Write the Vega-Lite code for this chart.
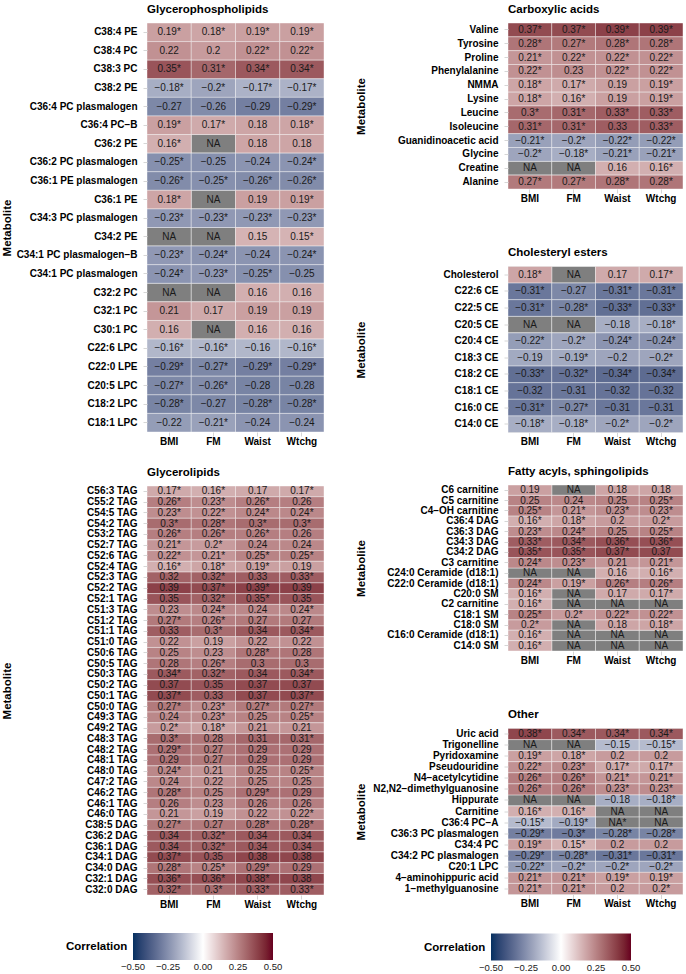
{
"$schema": "https://vega.github.io/schema/vega-lite/v6.json",
"padding": {"left": 1, "top": 3, "right": 0, "bottom": 0},
"config": {
 "font": "Liberation Sans",
 "view": {"stroke": null},
 "title": {"anchor": "start", "frame": "group", "fontSize": 11.5, "fontWeight": "bold", "color": "#000000", "offset": 7.5, "baseline": "alphabetic"},
 "axisY": {"domain": false, "tickSize": 4, "tickColor": "#d6d6d6", "labelPadding": 6, "labelFontSize": 10, "labelFontWeight": "bold", "labelColor": "#000000", "titleFontSize": 11.5, "titleFontWeight": "bold", "titleColor": "#000000", "titleBaseline": "middle", "labelLimit": 300},
 "axisX": {"domain": false, "tickSize": 4, "tickColor": "#d6d6d6", "labelPadding": 0, "labelFontSize": 10, "labelFontWeight": "bold", "labelColor": "#000000", "labelAngle": 0}
},
"datasets": {
 "gp": [
  {"m":"C38:4 PE","x":"BMI","v":0.19,"t":"0.19*"},{"m":"C38:4 PE","x":"FM","v":0.18,"t":"0.18*"},{"m":"C38:4 PE","x":"Waist","v":0.19,"t":"0.19*"},{"m":"C38:4 PE","x":"Wtchg","v":0.19,"t":"0.19*"},
  {"m":"C38:4 PC","x":"BMI","v":0.22,"t":"0.22"},{"m":"C38:4 PC","x":"FM","v":0.2,"t":"0.2"},{"m":"C38:4 PC","x":"Waist","v":0.22,"t":"0.22*"},{"m":"C38:4 PC","x":"Wtchg","v":0.22,"t":"0.22*"},
  {"m":"C38:3 PC","x":"BMI","v":0.35,"t":"0.35*"},{"m":"C38:3 PC","x":"FM","v":0.31,"t":"0.31*"},{"m":"C38:3 PC","x":"Waist","v":0.34,"t":"0.34*"},{"m":"C38:3 PC","x":"Wtchg","v":0.34,"t":"0.34*"},
  {"m":"C38:2 PE","x":"BMI","v":-0.18,"t":"−0.18*"},{"m":"C38:2 PE","x":"FM","v":-0.2,"t":"−0.2*"},{"m":"C38:2 PE","x":"Waist","v":-0.17,"t":"−0.17*"},{"m":"C38:2 PE","x":"Wtchg","v":-0.17,"t":"−0.17*"},
  {"m":"C36:4 PC plasmalogen","x":"BMI","v":-0.27,"t":"−0.27"},{"m":"C36:4 PC plasmalogen","x":"FM","v":-0.26,"t":"−0.26"},{"m":"C36:4 PC plasmalogen","x":"Waist","v":-0.29,"t":"−0.29"},{"m":"C36:4 PC plasmalogen","x":"Wtchg","v":-0.29,"t":"−0.29*"},
  {"m":"C36:4 PC−B","x":"BMI","v":0.19,"t":"0.19*"},{"m":"C36:4 PC−B","x":"FM","v":0.17,"t":"0.17*"},{"m":"C36:4 PC−B","x":"Waist","v":0.18,"t":"0.18"},{"m":"C36:4 PC−B","x":"Wtchg","v":0.18,"t":"0.18*"},
  {"m":"C36:2 PE","x":"BMI","v":0.16,"t":"0.16*"},{"m":"C36:2 PE","x":"FM","v":null,"t":"NA"},{"m":"C36:2 PE","x":"Waist","v":0.18,"t":"0.18"},{"m":"C36:2 PE","x":"Wtchg","v":0.18,"t":"0.18"},
  {"m":"C36:2 PC plasmalogen","x":"BMI","v":-0.25,"t":"−0.25*"},{"m":"C36:2 PC plasmalogen","x":"FM","v":-0.25,"t":"−0.25"},{"m":"C36:2 PC plasmalogen","x":"Waist","v":-0.24,"t":"−0.24"},{"m":"C36:2 PC plasmalogen","x":"Wtchg","v":-0.24,"t":"−0.24*"},
  {"m":"C36:1 PE plasmalogen","x":"BMI","v":-0.26,"t":"−0.26*"},{"m":"C36:1 PE plasmalogen","x":"FM","v":-0.25,"t":"−0.25*"},{"m":"C36:1 PE plasmalogen","x":"Waist","v":-0.26,"t":"−0.26*"},{"m":"C36:1 PE plasmalogen","x":"Wtchg","v":-0.26,"t":"−0.26*"},
  {"m":"C36:1 PE","x":"BMI","v":0.18,"t":"0.18*"},{"m":"C36:1 PE","x":"FM","v":null,"t":"NA"},{"m":"C36:1 PE","x":"Waist","v":0.19,"t":"0.19"},{"m":"C36:1 PE","x":"Wtchg","v":0.19,"t":"0.19*"},
  {"m":"C34:3 PC plasmalogen","x":"BMI","v":-0.23,"t":"−0.23*"},{"m":"C34:3 PC plasmalogen","x":"FM","v":-0.23,"t":"−0.23*"},{"m":"C34:3 PC plasmalogen","x":"Waist","v":-0.23,"t":"−0.23*"},{"m":"C34:3 PC plasmalogen","x":"Wtchg","v":-0.23,"t":"−0.23*"},
  {"m":"C34:2 PE","x":"BMI","v":null,"t":"NA"},{"m":"C34:2 PE","x":"FM","v":null,"t":"NA"},{"m":"C34:2 PE","x":"Waist","v":0.15,"t":"0.15"},{"m":"C34:2 PE","x":"Wtchg","v":0.15,"t":"0.15*"},
  {"m":"C34:1 PC plasmalogen−B","x":"BMI","v":-0.23,"t":"−0.23*"},{"m":"C34:1 PC plasmalogen−B","x":"FM","v":-0.24,"t":"−0.24*"},{"m":"C34:1 PC plasmalogen−B","x":"Waist","v":-0.24,"t":"−0.24"},{"m":"C34:1 PC plasmalogen−B","x":"Wtchg","v":-0.24,"t":"−0.24*"},
  {"m":"C34:1 PC plasmalogen","x":"BMI","v":-0.24,"t":"−0.24*"},{"m":"C34:1 PC plasmalogen","x":"FM","v":-0.23,"t":"−0.23*"},{"m":"C34:1 PC plasmalogen","x":"Waist","v":-0.25,"t":"−0.25*"},{"m":"C34:1 PC plasmalogen","x":"Wtchg","v":-0.25,"t":"−0.25"},
  {"m":"C32:2 PC","x":"BMI","v":null,"t":"NA"},{"m":"C32:2 PC","x":"FM","v":null,"t":"NA"},{"m":"C32:2 PC","x":"Waist","v":0.16,"t":"0.16"},{"m":"C32:2 PC","x":"Wtchg","v":0.16,"t":"0.16"},
  {"m":"C32:1 PC","x":"BMI","v":0.21,"t":"0.21"},{"m":"C32:1 PC","x":"FM","v":0.17,"t":"0.17"},{"m":"C32:1 PC","x":"Waist","v":0.19,"t":"0.19"},{"m":"C32:1 PC","x":"Wtchg","v":0.19,"t":"0.19"},
  {"m":"C30:1 PC","x":"BMI","v":0.16,"t":"0.16"},{"m":"C30:1 PC","x":"FM","v":null,"t":"NA"},{"m":"C30:1 PC","x":"Waist","v":0.16,"t":"0.16"},{"m":"C30:1 PC","x":"Wtchg","v":0.16,"t":"0.16"},
  {"m":"C22:6 LPC","x":"BMI","v":-0.16,"t":"−0.16*"},{"m":"C22:6 LPC","x":"FM","v":-0.16,"t":"−0.16*"},{"m":"C22:6 LPC","x":"Waist","v":-0.16,"t":"−0.16"},{"m":"C22:6 LPC","x":"Wtchg","v":-0.16,"t":"−0.16*"},
  {"m":"C22:0 LPE","x":"BMI","v":-0.29,"t":"−0.29*"},{"m":"C22:0 LPE","x":"FM","v":-0.27,"t":"−0.27*"},{"m":"C22:0 LPE","x":"Waist","v":-0.29,"t":"−0.29*"},{"m":"C22:0 LPE","x":"Wtchg","v":-0.29,"t":"−0.29*"},
  {"m":"C20:5 LPC","x":"BMI","v":-0.27,"t":"−0.27*"},{"m":"C20:5 LPC","x":"FM","v":-0.26,"t":"−0.26*"},{"m":"C20:5 LPC","x":"Waist","v":-0.28,"t":"−0.28"},{"m":"C20:5 LPC","x":"Wtchg","v":-0.28,"t":"−0.28"},
  {"m":"C18:2 LPC","x":"BMI","v":-0.28,"t":"−0.28*"},{"m":"C18:2 LPC","x":"FM","v":-0.27,"t":"−0.27"},{"m":"C18:2 LPC","x":"Waist","v":-0.28,"t":"−0.28*"},{"m":"C18:2 LPC","x":"Wtchg","v":-0.28,"t":"−0.28*"},
  {"m":"C18:1 LPC","x":"BMI","v":-0.22,"t":"−0.22"},{"m":"C18:1 LPC","x":"FM","v":-0.21,"t":"−0.21*"},{"m":"C18:1 LPC","x":"Waist","v":-0.24,"t":"−0.24"},{"m":"C18:1 LPC","x":"Wtchg","v":-0.24,"t":"−0.24"}
 ],
 "gl": [
  {"m":"C56:3 TAG","x":"BMI","v":0.17,"t":"0.17*"},{"m":"C56:3 TAG","x":"FM","v":0.16,"t":"0.16*"},{"m":"C56:3 TAG","x":"Waist","v":0.17,"t":"0.17"},{"m":"C56:3 TAG","x":"Wtchg","v":0.17,"t":"0.17*"},
  {"m":"C55:2 TAG","x":"BMI","v":0.26,"t":"0.26*"},{"m":"C55:2 TAG","x":"FM","v":0.23,"t":"0.23*"},{"m":"C55:2 TAG","x":"Waist","v":0.26,"t":"0.26*"},{"m":"C55:2 TAG","x":"Wtchg","v":0.26,"t":"0.26"},
  {"m":"C54:5 TAG","x":"BMI","v":0.23,"t":"0.23*"},{"m":"C54:5 TAG","x":"FM","v":0.22,"t":"0.22*"},{"m":"C54:5 TAG","x":"Waist","v":0.24,"t":"0.24*"},{"m":"C54:5 TAG","x":"Wtchg","v":0.24,"t":"0.24*"},
  {"m":"C54:2 TAG","x":"BMI","v":0.3,"t":"0.3*"},{"m":"C54:2 TAG","x":"FM","v":0.28,"t":"0.28*"},{"m":"C54:2 TAG","x":"Waist","v":0.3,"t":"0.3*"},{"m":"C54:2 TAG","x":"Wtchg","v":0.3,"t":"0.3*"},
  {"m":"C53:2 TAG","x":"BMI","v":0.26,"t":"0.26*"},{"m":"C53:2 TAG","x":"FM","v":0.26,"t":"0.26*"},{"m":"C53:2 TAG","x":"Waist","v":0.26,"t":"0.26*"},{"m":"C53:2 TAG","x":"Wtchg","v":0.26,"t":"0.26"},
  {"m":"C52:7 TAG","x":"BMI","v":0.21,"t":"0.21*"},{"m":"C52:7 TAG","x":"FM","v":0.2,"t":"0.2*"},{"m":"C52:7 TAG","x":"Waist","v":0.24,"t":"0.24"},{"m":"C52:7 TAG","x":"Wtchg","v":0.24,"t":"0.24"},
  {"m":"C52:6 TAG","x":"BMI","v":0.22,"t":"0.22*"},{"m":"C52:6 TAG","x":"FM","v":0.21,"t":"0.21*"},{"m":"C52:6 TAG","x":"Waist","v":0.25,"t":"0.25*"},{"m":"C52:6 TAG","x":"Wtchg","v":0.25,"t":"0.25*"},
  {"m":"C52:4 TAG","x":"BMI","v":0.16,"t":"0.16*"},{"m":"C52:4 TAG","x":"FM","v":0.18,"t":"0.18*"},{"m":"C52:4 TAG","x":"Waist","v":0.19,"t":"0.19*"},{"m":"C52:4 TAG","x":"Wtchg","v":0.19,"t":"0.19"},
  {"m":"C52:3 TAG","x":"BMI","v":0.32,"t":"0.32"},{"m":"C52:3 TAG","x":"FM","v":0.32,"t":"0.32*"},{"m":"C52:3 TAG","x":"Waist","v":0.33,"t":"0.33"},{"m":"C52:3 TAG","x":"Wtchg","v":0.33,"t":"0.33*"},
  {"m":"C52:2 TAG","x":"BMI","v":0.39,"t":"0.39"},{"m":"C52:2 TAG","x":"FM","v":0.37,"t":"0.37*"},{"m":"C52:2 TAG","x":"Waist","v":0.39,"t":"0.39*"},{"m":"C52:2 TAG","x":"Wtchg","v":0.39,"t":"0.39"},
  {"m":"C52:1 TAG","x":"BMI","v":0.35,"t":"0.35"},{"m":"C52:1 TAG","x":"FM","v":0.32,"t":"0.32*"},{"m":"C52:1 TAG","x":"Waist","v":0.35,"t":"0.35*"},{"m":"C52:1 TAG","x":"Wtchg","v":0.35,"t":"0.35"},
  {"m":"C51:3 TAG","x":"BMI","v":0.23,"t":"0.23"},{"m":"C51:3 TAG","x":"FM","v":0.24,"t":"0.24*"},{"m":"C51:3 TAG","x":"Waist","v":0.24,"t":"0.24"},{"m":"C51:3 TAG","x":"Wtchg","v":0.24,"t":"0.24*"},
  {"m":"C51:2 TAG","x":"BMI","v":0.27,"t":"0.27*"},{"m":"C51:2 TAG","x":"FM","v":0.26,"t":"0.26*"},{"m":"C51:2 TAG","x":"Waist","v":0.27,"t":"0.27"},{"m":"C51:2 TAG","x":"Wtchg","v":0.27,"t":"0.27"},
  {"m":"C51:1 TAG","x":"BMI","v":0.33,"t":"0.33"},{"m":"C51:1 TAG","x":"FM","v":0.3,"t":"0.3*"},{"m":"C51:1 TAG","x":"Waist","v":0.34,"t":"0.34"},{"m":"C51:1 TAG","x":"Wtchg","v":0.34,"t":"0.34*"},
  {"m":"C51:0 TAG","x":"BMI","v":0.22,"t":"0.22"},{"m":"C51:0 TAG","x":"FM","v":0.19,"t":"0.19"},{"m":"C51:0 TAG","x":"Waist","v":0.22,"t":"0.22"},{"m":"C51:0 TAG","x":"Wtchg","v":0.22,"t":"0.22"},
  {"m":"C50:6 TAG","x":"BMI","v":0.25,"t":"0.25"},{"m":"C50:6 TAG","x":"FM","v":0.23,"t":"0.23"},{"m":"C50:6 TAG","x":"Waist","v":0.28,"t":"0.28*"},{"m":"C50:6 TAG","x":"Wtchg","v":0.28,"t":"0.28"},
  {"m":"C50:5 TAG","x":"BMI","v":0.28,"t":"0.28"},{"m":"C50:5 TAG","x":"FM","v":0.26,"t":"0.26*"},{"m":"C50:5 TAG","x":"Waist","v":0.3,"t":"0.3"},{"m":"C50:5 TAG","x":"Wtchg","v":0.3,"t":"0.3"},
  {"m":"C50:3 TAG","x":"BMI","v":0.34,"t":"0.34*"},{"m":"C50:3 TAG","x":"FM","v":0.32,"t":"0.32*"},{"m":"C50:3 TAG","x":"Waist","v":0.34,"t":"0.34"},{"m":"C50:3 TAG","x":"Wtchg","v":0.34,"t":"0.34*"},
  {"m":"C50:2 TAG","x":"BMI","v":0.37,"t":"0.37"},{"m":"C50:2 TAG","x":"FM","v":0.35,"t":"0.35"},{"m":"C50:2 TAG","x":"Waist","v":0.37,"t":"0.37"},{"m":"C50:2 TAG","x":"Wtchg","v":0.37,"t":"0.37"},
  {"m":"C50:1 TAG","x":"BMI","v":0.37,"t":"0.37*"},{"m":"C50:1 TAG","x":"FM","v":0.33,"t":"0.33"},{"m":"C50:1 TAG","x":"Waist","v":0.37,"t":"0.37"},{"m":"C50:1 TAG","x":"Wtchg","v":0.37,"t":"0.37*"},
  {"m":"C50:0 TAG","x":"BMI","v":0.27,"t":"0.27*"},{"m":"C50:0 TAG","x":"FM","v":0.23,"t":"0.23*"},{"m":"C50:0 TAG","x":"Waist","v":0.27,"t":"0.27*"},{"m":"C50:0 TAG","x":"Wtchg","v":0.27,"t":"0.27*"},
  {"m":"C49:3 TAG","x":"BMI","v":0.24,"t":"0.24"},{"m":"C49:3 TAG","x":"FM","v":0.23,"t":"0.23*"},{"m":"C49:3 TAG","x":"Waist","v":0.25,"t":"0.25"},{"m":"C49:3 TAG","x":"Wtchg","v":0.25,"t":"0.25*"},
  {"m":"C49:2 TAG","x":"BMI","v":0.2,"t":"0.2*"},{"m":"C49:2 TAG","x":"FM","v":0.18,"t":"0.18*"},{"m":"C49:2 TAG","x":"Waist","v":0.21,"t":"0.21"},{"m":"C49:2 TAG","x":"Wtchg","v":0.21,"t":"0.21"},
  {"m":"C48:3 TAG","x":"BMI","v":0.3,"t":"0.3*"},{"m":"C48:3 TAG","x":"FM","v":0.28,"t":"0.28"},{"m":"C48:3 TAG","x":"Waist","v":0.31,"t":"0.31"},{"m":"C48:3 TAG","x":"Wtchg","v":0.31,"t":"0.31*"},
  {"m":"C48:2 TAG","x":"BMI","v":0.29,"t":"0.29*"},{"m":"C48:2 TAG","x":"FM","v":0.27,"t":"0.27"},{"m":"C48:2 TAG","x":"Waist","v":0.29,"t":"0.29"},{"m":"C48:2 TAG","x":"Wtchg","v":0.29,"t":"0.29"},
  {"m":"C48:1 TAG","x":"BMI","v":0.29,"t":"0.29"},{"m":"C48:1 TAG","x":"FM","v":0.27,"t":"0.27"},{"m":"C48:1 TAG","x":"Waist","v":0.29,"t":"0.29"},{"m":"C48:1 TAG","x":"Wtchg","v":0.29,"t":"0.29"},
  {"m":"C48:0 TAG","x":"BMI","v":0.24,"t":"0.24*"},{"m":"C48:0 TAG","x":"FM","v":0.21,"t":"0.21"},{"m":"C48:0 TAG","x":"Waist","v":0.25,"t":"0.25"},{"m":"C48:0 TAG","x":"Wtchg","v":0.25,"t":"0.25*"},
  {"m":"C47:2 TAG","x":"BMI","v":0.24,"t":"0.24"},{"m":"C47:2 TAG","x":"FM","v":0.22,"t":"0.22"},{"m":"C47:2 TAG","x":"Waist","v":0.25,"t":"0.25"},{"m":"C47:2 TAG","x":"Wtchg","v":0.25,"t":"0.25"},
  {"m":"C46:2 TAG","x":"BMI","v":0.28,"t":"0.28*"},{"m":"C46:2 TAG","x":"FM","v":0.25,"t":"0.25"},{"m":"C46:2 TAG","x":"Waist","v":0.29,"t":"0.29*"},{"m":"C46:2 TAG","x":"Wtchg","v":0.29,"t":"0.29"},
  {"m":"C46:1 TAG","x":"BMI","v":0.26,"t":"0.26"},{"m":"C46:1 TAG","x":"FM","v":0.23,"t":"0.23"},{"m":"C46:1 TAG","x":"Waist","v":0.26,"t":"0.26"},{"m":"C46:1 TAG","x":"Wtchg","v":0.26,"t":"0.26"},
  {"m":"C46:0 TAG","x":"BMI","v":0.21,"t":"0.21"},{"m":"C46:0 TAG","x":"FM","v":0.19,"t":"0.19"},{"m":"C46:0 TAG","x":"Waist","v":0.22,"t":"0.22"},{"m":"C46:0 TAG","x":"Wtchg","v":0.22,"t":"0.22*"},
  {"m":"C38:5 DAG","x":"BMI","v":0.27,"t":"0.27*"},{"m":"C38:5 DAG","x":"FM","v":0.27,"t":"0.27"},{"m":"C38:5 DAG","x":"Waist","v":0.28,"t":"0.28*"},{"m":"C38:5 DAG","x":"Wtchg","v":0.28,"t":"0.28*"},
  {"m":"C36:2 DAG","x":"BMI","v":0.34,"t":"0.34"},{"m":"C36:2 DAG","x":"FM","v":0.32,"t":"0.32*"},{"m":"C36:2 DAG","x":"Waist","v":0.34,"t":"0.34"},{"m":"C36:2 DAG","x":"Wtchg","v":0.34,"t":"0.34"},
  {"m":"C36:1 DAG","x":"BMI","v":0.34,"t":"0.34"},{"m":"C36:1 DAG","x":"FM","v":0.32,"t":"0.32*"},{"m":"C36:1 DAG","x":"Waist","v":0.34,"t":"0.34"},{"m":"C36:1 DAG","x":"Wtchg","v":0.34,"t":"0.34"},
  {"m":"C34:1 DAG","x":"BMI","v":0.37,"t":"0.37*"},{"m":"C34:1 DAG","x":"FM","v":0.35,"t":"0.35"},{"m":"C34:1 DAG","x":"Waist","v":0.38,"t":"0.38"},{"m":"C34:1 DAG","x":"Wtchg","v":0.38,"t":"0.38"},
  {"m":"C34:0 DAG","x":"BMI","v":0.28,"t":"0.28*"},{"m":"C34:0 DAG","x":"FM","v":0.25,"t":"0.25*"},{"m":"C34:0 DAG","x":"Waist","v":0.29,"t":"0.29*"},{"m":"C34:0 DAG","x":"Wtchg","v":0.29,"t":"0.29"},
  {"m":"C32:1 DAG","x":"BMI","v":0.36,"t":"0.36*"},{"m":"C32:1 DAG","x":"FM","v":0.36,"t":"0.36*"},{"m":"C32:1 DAG","x":"Waist","v":0.38,"t":"0.38*"},{"m":"C32:1 DAG","x":"Wtchg","v":0.38,"t":"0.38"},
  {"m":"C32:0 DAG","x":"BMI","v":0.32,"t":"0.32*"},{"m":"C32:0 DAG","x":"FM","v":0.3,"t":"0.3*"},{"m":"C32:0 DAG","x":"Waist","v":0.33,"t":"0.33*"},{"m":"C32:0 DAG","x":"Wtchg","v":0.33,"t":"0.33*"}
 ],
 "ca": [
  {"m":"Valine","x":"BMI","v":0.37,"t":"0.37*"},{"m":"Valine","x":"FM","v":0.37,"t":"0.37*"},{"m":"Valine","x":"Waist","v":0.39,"t":"0.39*"},{"m":"Valine","x":"Wtchg","v":0.39,"t":"0.39*"},
  {"m":"Tyrosine","x":"BMI","v":0.28,"t":"0.28*"},{"m":"Tyrosine","x":"FM","v":0.27,"t":"0.27*"},{"m":"Tyrosine","x":"Waist","v":0.28,"t":"0.28*"},{"m":"Tyrosine","x":"Wtchg","v":0.28,"t":"0.28*"},
  {"m":"Proline","x":"BMI","v":0.21,"t":"0.21*"},{"m":"Proline","x":"FM","v":0.22,"t":"0.22*"},{"m":"Proline","x":"Waist","v":0.22,"t":"0.22*"},{"m":"Proline","x":"Wtchg","v":0.22,"t":"0.22*"},
  {"m":"Phenylalanine","x":"BMI","v":0.22,"t":"0.22*"},{"m":"Phenylalanine","x":"FM","v":0.23,"t":"0.23"},{"m":"Phenylalanine","x":"Waist","v":0.22,"t":"0.22*"},{"m":"Phenylalanine","x":"Wtchg","v":0.22,"t":"0.22*"},
  {"m":"NMMA","x":"BMI","v":0.18,"t":"0.18*"},{"m":"NMMA","x":"FM","v":0.17,"t":"0.17*"},{"m":"NMMA","x":"Waist","v":0.19,"t":"0.19"},{"m":"NMMA","x":"Wtchg","v":0.19,"t":"0.19*"},
  {"m":"Lysine","x":"BMI","v":0.18,"t":"0.18*"},{"m":"Lysine","x":"FM","v":0.16,"t":"0.16*"},{"m":"Lysine","x":"Waist","v":0.19,"t":"0.19"},{"m":"Lysine","x":"Wtchg","v":0.19,"t":"0.19*"},
  {"m":"Leucine","x":"BMI","v":0.3,"t":"0.3*"},{"m":"Leucine","x":"FM","v":0.31,"t":"0.31*"},{"m":"Leucine","x":"Waist","v":0.33,"t":"0.33*"},{"m":"Leucine","x":"Wtchg","v":0.33,"t":"0.33*"},
  {"m":"Isoleucine","x":"BMI","v":0.31,"t":"0.31*"},{"m":"Isoleucine","x":"FM","v":0.31,"t":"0.31*"},{"m":"Isoleucine","x":"Waist","v":0.33,"t":"0.33"},{"m":"Isoleucine","x":"Wtchg","v":0.33,"t":"0.33*"},
  {"m":"Guanidinoacetic acid","x":"BMI","v":-0.21,"t":"−0.21*"},{"m":"Guanidinoacetic acid","x":"FM","v":-0.2,"t":"−0.2*"},{"m":"Guanidinoacetic acid","x":"Waist","v":-0.22,"t":"−0.22*"},{"m":"Guanidinoacetic acid","x":"Wtchg","v":-0.22,"t":"−0.22*"},
  {"m":"Glycine","x":"BMI","v":-0.2,"t":"−0.2*"},{"m":"Glycine","x":"FM","v":-0.18,"t":"−0.18*"},{"m":"Glycine","x":"Waist","v":-0.21,"t":"−0.21*"},{"m":"Glycine","x":"Wtchg","v":-0.21,"t":"−0.21*"},
  {"m":"Creatine","x":"BMI","v":null,"t":"NA"},{"m":"Creatine","x":"FM","v":null,"t":"NA"},{"m":"Creatine","x":"Waist","v":0.16,"t":"0.16"},{"m":"Creatine","x":"Wtchg","v":0.16,"t":"0.16*"},
  {"m":"Alanine","x":"BMI","v":0.27,"t":"0.27*"},{"m":"Alanine","x":"FM","v":0.27,"t":"0.27*"},{"m":"Alanine","x":"Waist","v":0.28,"t":"0.28*"},{"m":"Alanine","x":"Wtchg","v":0.28,"t":"0.28*"}
 ],
 "ce": [
  {"m":"Cholesterol","x":"BMI","v":0.18,"t":"0.18*"},{"m":"Cholesterol","x":"FM","v":null,"t":"NA"},{"m":"Cholesterol","x":"Waist","v":0.17,"t":"0.17"},{"m":"Cholesterol","x":"Wtchg","v":0.17,"t":"0.17*"},
  {"m":"C22:6 CE","x":"BMI","v":-0.31,"t":"−0.31*"},{"m":"C22:6 CE","x":"FM","v":-0.27,"t":"−0.27"},{"m":"C22:6 CE","x":"Waist","v":-0.31,"t":"−0.31*"},{"m":"C22:6 CE","x":"Wtchg","v":-0.31,"t":"−0.31*"},
  {"m":"C22:5 CE","x":"BMI","v":-0.31,"t":"−0.31*"},{"m":"C22:5 CE","x":"FM","v":-0.28,"t":"−0.28*"},{"m":"C22:5 CE","x":"Waist","v":-0.33,"t":"−0.33*"},{"m":"C22:5 CE","x":"Wtchg","v":-0.33,"t":"−0.33*"},
  {"m":"C20:5 CE","x":"BMI","v":null,"t":"NA"},{"m":"C20:5 CE","x":"FM","v":null,"t":"NA"},{"m":"C20:5 CE","x":"Waist","v":-0.18,"t":"−0.18"},{"m":"C20:5 CE","x":"Wtchg","v":-0.18,"t":"−0.18*"},
  {"m":"C20:4 CE","x":"BMI","v":-0.22,"t":"−0.22*"},{"m":"C20:4 CE","x":"FM","v":-0.2,"t":"−0.2*"},{"m":"C20:4 CE","x":"Waist","v":-0.24,"t":"−0.24*"},{"m":"C20:4 CE","x":"Wtchg","v":-0.24,"t":"−0.24*"},
  {"m":"C18:3 CE","x":"BMI","v":-0.19,"t":"−0.19"},{"m":"C18:3 CE","x":"FM","v":-0.19,"t":"−0.19*"},{"m":"C18:3 CE","x":"Waist","v":-0.2,"t":"−0.2"},{"m":"C18:3 CE","x":"Wtchg","v":-0.2,"t":"−0.2*"},
  {"m":"C18:2 CE","x":"BMI","v":-0.33,"t":"−0.33*"},{"m":"C18:2 CE","x":"FM","v":-0.32,"t":"−0.32*"},{"m":"C18:2 CE","x":"Waist","v":-0.34,"t":"−0.34*"},{"m":"C18:2 CE","x":"Wtchg","v":-0.34,"t":"−0.34*"},
  {"m":"C18:1 CE","x":"BMI","v":-0.32,"t":"−0.32"},{"m":"C18:1 CE","x":"FM","v":-0.31,"t":"−0.31"},{"m":"C18:1 CE","x":"Waist","v":-0.32,"t":"−0.32"},{"m":"C18:1 CE","x":"Wtchg","v":-0.32,"t":"−0.32"},
  {"m":"C16:0 CE","x":"BMI","v":-0.31,"t":"−0.31*"},{"m":"C16:0 CE","x":"FM","v":-0.27,"t":"−0.27*"},{"m":"C16:0 CE","x":"Waist","v":-0.31,"t":"−0.31"},{"m":"C16:0 CE","x":"Wtchg","v":-0.31,"t":"−0.31"},
  {"m":"C14:0 CE","x":"BMI","v":-0.18,"t":"−0.18*"},{"m":"C14:0 CE","x":"FM","v":-0.18,"t":"−0.18*"},{"m":"C14:0 CE","x":"Waist","v":-0.2,"t":"−0.2*"},{"m":"C14:0 CE","x":"Wtchg","v":-0.2,"t":"−0.2*"}
 ],
 "fa": [
  {"m":"C6 carnitine","x":"BMI","v":0.19,"t":"0.19"},{"m":"C6 carnitine","x":"FM","v":null,"t":"NA"},{"m":"C6 carnitine","x":"Waist","v":0.18,"t":"0.18"},{"m":"C6 carnitine","x":"Wtchg","v":0.18,"t":"0.18"},
  {"m":"C5 carnitine","x":"BMI","v":0.25,"t":"0.25"},{"m":"C5 carnitine","x":"FM","v":0.24,"t":"0.24"},{"m":"C5 carnitine","x":"Waist","v":0.25,"t":"0.25"},{"m":"C5 carnitine","x":"Wtchg","v":0.25,"t":"0.25*"},
  {"m":"C4−OH carnitine","x":"BMI","v":0.25,"t":"0.25*"},{"m":"C4−OH carnitine","x":"FM","v":0.21,"t":"0.21*"},{"m":"C4−OH carnitine","x":"Waist","v":0.23,"t":"0.23*"},{"m":"C4−OH carnitine","x":"Wtchg","v":0.23,"t":"0.23*"},
  {"m":"C36:4 DAG","x":"BMI","v":0.16,"t":"0.16*"},{"m":"C36:4 DAG","x":"FM","v":0.18,"t":"0.18*"},{"m":"C36:4 DAG","x":"Waist","v":0.2,"t":"0.2"},{"m":"C36:4 DAG","x":"Wtchg","v":0.2,"t":"0.2*"},
  {"m":"C36:3 DAG","x":"BMI","v":0.23,"t":"0.23*"},{"m":"C36:3 DAG","x":"FM","v":0.24,"t":"0.24*"},{"m":"C36:3 DAG","x":"Waist","v":0.25,"t":"0.25"},{"m":"C36:3 DAG","x":"Wtchg","v":0.25,"t":"0.25*"},
  {"m":"C34:3 DAG","x":"BMI","v":0.33,"t":"0.33*"},{"m":"C34:3 DAG","x":"FM","v":0.34,"t":"0.34*"},{"m":"C34:3 DAG","x":"Waist","v":0.36,"t":"0.36*"},{"m":"C34:3 DAG","x":"Wtchg","v":0.36,"t":"0.36*"},
  {"m":"C34:2 DAG","x":"BMI","v":0.35,"t":"0.35*"},{"m":"C34:2 DAG","x":"FM","v":0.35,"t":"0.35*"},{"m":"C34:2 DAG","x":"Waist","v":0.37,"t":"0.37*"},{"m":"C34:2 DAG","x":"Wtchg","v":0.37,"t":"0.37"},
  {"m":"C3 carnitine","x":"BMI","v":0.24,"t":"0.24*"},{"m":"C3 carnitine","x":"FM","v":0.23,"t":"0.23*"},{"m":"C3 carnitine","x":"Waist","v":0.21,"t":"0.21"},{"m":"C3 carnitine","x":"Wtchg","v":0.21,"t":"0.21*"},
  {"m":"C24:0 Ceramide (d18:1)","x":"BMI","v":null,"t":"NA"},{"m":"C24:0 Ceramide (d18:1)","x":"FM","v":null,"t":"NA"},{"m":"C24:0 Ceramide (d18:1)","x":"Waist","v":0.16,"t":"0.16"},{"m":"C24:0 Ceramide (d18:1)","x":"Wtchg","v":0.16,"t":"0.16*"},
  {"m":"C22:0 Ceramide (d18:1)","x":"BMI","v":0.24,"t":"0.24*"},{"m":"C22:0 Ceramide (d18:1)","x":"FM","v":0.19,"t":"0.19*"},{"m":"C22:0 Ceramide (d18:1)","x":"Waist","v":0.26,"t":"0.26*"},{"m":"C22:0 Ceramide (d18:1)","x":"Wtchg","v":0.26,"t":"0.26*"},
  {"m":"C20:0 SM","x":"BMI","v":0.16,"t":"0.16*"},{"m":"C20:0 SM","x":"FM","v":null,"t":"NA"},{"m":"C20:0 SM","x":"Waist","v":0.17,"t":"0.17"},{"m":"C20:0 SM","x":"Wtchg","v":0.17,"t":"0.17*"},
  {"m":"C2 carnitine","x":"BMI","v":0.16,"t":"0.16*"},{"m":"C2 carnitine","x":"FM","v":null,"t":"NA"},{"m":"C2 carnitine","x":"Waist","v":null,"t":"NA"},{"m":"C2 carnitine","x":"Wtchg","v":null,"t":"NA"},
  {"m":"C18:1 SM","x":"BMI","v":0.25,"t":"0.25*"},{"m":"C18:1 SM","x":"FM","v":0.2,"t":"0.2*"},{"m":"C18:1 SM","x":"Waist","v":0.22,"t":"0.22*"},{"m":"C18:1 SM","x":"Wtchg","v":0.22,"t":"0.22*"},
  {"m":"C18:0 SM","x":"BMI","v":0.2,"t":"0.2*"},{"m":"C18:0 SM","x":"FM","v":null,"t":"NA"},{"m":"C18:0 SM","x":"Waist","v":0.18,"t":"0.18"},{"m":"C18:0 SM","x":"Wtchg","v":0.18,"t":"0.18*"},
  {"m":"C16:0 Ceramide (d18:1)","x":"BMI","v":0.16,"t":"0.16*"},{"m":"C16:0 Ceramide (d18:1)","x":"FM","v":null,"t":"NA"},{"m":"C16:0 Ceramide (d18:1)","x":"Waist","v":null,"t":"NA"},{"m":"C16:0 Ceramide (d18:1)","x":"Wtchg","v":null,"t":"NA"},
  {"m":"C14:0 SM","x":"BMI","v":0.16,"t":"0.16*"},{"m":"C14:0 SM","x":"FM","v":null,"t":"NA"},{"m":"C14:0 SM","x":"Waist","v":null,"t":"NA"},{"m":"C14:0 SM","x":"Wtchg","v":null,"t":"NA"}
 ],
 "ot": [
  {"m":"Uric acid","x":"BMI","v":0.38,"t":"0.38*"},{"m":"Uric acid","x":"FM","v":0.34,"t":"0.34*"},{"m":"Uric acid","x":"Waist","v":0.34,"t":"0.34*"},{"m":"Uric acid","x":"Wtchg","v":0.34,"t":"0.34*"},
  {"m":"Trigonelline","x":"BMI","v":null,"t":"NA"},{"m":"Trigonelline","x":"FM","v":null,"t":"NA"},{"m":"Trigonelline","x":"Waist","v":-0.15,"t":"−0.15"},{"m":"Trigonelline","x":"Wtchg","v":-0.15,"t":"−0.15*"},
  {"m":"Pyridoxamine","x":"BMI","v":0.19,"t":"0.19*"},{"m":"Pyridoxamine","x":"FM","v":0.18,"t":"0.18*"},{"m":"Pyridoxamine","x":"Waist","v":0.2,"t":"0.2"},{"m":"Pyridoxamine","x":"Wtchg","v":0.2,"t":"0.2"},
  {"m":"Pseudouridine","x":"BMI","v":0.22,"t":"0.22*"},{"m":"Pseudouridine","x":"FM","v":0.23,"t":"0.23*"},{"m":"Pseudouridine","x":"Waist","v":0.17,"t":"0.17*"},{"m":"Pseudouridine","x":"Wtchg","v":0.17,"t":"0.17*"},
  {"m":"N4−acetylcytidine","x":"BMI","v":0.26,"t":"0.26*"},{"m":"N4−acetylcytidine","x":"FM","v":0.26,"t":"0.26*"},{"m":"N4−acetylcytidine","x":"Waist","v":0.21,"t":"0.21*"},{"m":"N4−acetylcytidine","x":"Wtchg","v":0.21,"t":"0.21*"},
  {"m":"N2,N2−dimethylguanosine","x":"BMI","v":0.26,"t":"0.26*"},{"m":"N2,N2−dimethylguanosine","x":"FM","v":0.26,"t":"0.26*"},{"m":"N2,N2−dimethylguanosine","x":"Waist","v":0.23,"t":"0.23*"},{"m":"N2,N2−dimethylguanosine","x":"Wtchg","v":0.23,"t":"0.23*"},
  {"m":"Hippurate","x":"BMI","v":null,"t":"NA"},{"m":"Hippurate","x":"FM","v":null,"t":"NA"},{"m":"Hippurate","x":"Waist","v":-0.18,"t":"−0.18"},{"m":"Hippurate","x":"Wtchg","v":-0.18,"t":"−0.18*"},
  {"m":"Carnitine","x":"BMI","v":0.16,"t":"0.16*"},{"m":"Carnitine","x":"FM","v":0.16,"t":"0.16*"},{"m":"Carnitine","x":"Waist","v":null,"t":"NA"},{"m":"Carnitine","x":"Wtchg","v":null,"t":"NA"},
  {"m":"C36:4 PC−A","x":"BMI","v":-0.15,"t":"−0.15*"},{"m":"C36:4 PC−A","x":"FM","v":-0.19,"t":"−0.19*"},{"m":"C36:4 PC−A","x":"Waist","v":null,"t":"NA*"},{"m":"C36:4 PC−A","x":"Wtchg","v":null,"t":"NA"},
  {"m":"C36:3 PC plasmalogen","x":"BMI","v":-0.29,"t":"−0.29*"},{"m":"C36:3 PC plasmalogen","x":"FM","v":-0.3,"t":"−0.3*"},{"m":"C36:3 PC plasmalogen","x":"Waist","v":-0.28,"t":"−0.28*"},{"m":"C36:3 PC plasmalogen","x":"Wtchg","v":-0.28,"t":"−0.28*"},
  {"m":"C34:4 PC","x":"BMI","v":0.19,"t":"0.19*"},{"m":"C34:4 PC","x":"FM","v":0.15,"t":"0.15*"},{"m":"C34:4 PC","x":"Waist","v":0.2,"t":"0.2"},{"m":"C34:4 PC","x":"Wtchg","v":0.2,"t":"0.2"},
  {"m":"C34:2 PC plasmalogen","x":"BMI","v":-0.29,"t":"−0.29*"},{"m":"C34:2 PC plasmalogen","x":"FM","v":-0.28,"t":"−0.28*"},{"m":"C34:2 PC plasmalogen","x":"Waist","v":-0.31,"t":"−0.31*"},{"m":"C34:2 PC plasmalogen","x":"Wtchg","v":-0.31,"t":"−0.31*"},
  {"m":"C20:1 LPC","x":"BMI","v":-0.22,"t":"−0.22*"},{"m":"C20:1 LPC","x":"FM","v":-0.2,"t":"−0.2*"},{"m":"C20:1 LPC","x":"Waist","v":-0.2,"t":"−0.2*"},{"m":"C20:1 LPC","x":"Wtchg","v":-0.2,"t":"−0.2*"},
  {"m":"4−aminohippuric acid","x":"BMI","v":0.21,"t":"0.21*"},{"m":"4−aminohippuric acid","x":"FM","v":0.21,"t":"0.21*"},{"m":"4−aminohippuric acid","x":"Waist","v":0.19,"t":"0.19*"},{"m":"4−aminohippuric acid","x":"Wtchg","v":0.19,"t":"0.19*"},
  {"m":"1−methylguanosine","x":"BMI","v":0.21,"t":"0.21*"},{"m":"1−methylguanosine","x":"FM","v":0.21,"t":"0.21*"},{"m":"1−methylguanosine","x":"Waist","v":0.2,"t":"0.2"},{"m":"1−methylguanosine","x":"Wtchg","v":0.2,"t":"0.2*"}
 ]
},
"hconcat": [
 {"vconcat": [
  {"width": 177, "height": 409, "data": {"name": "gp"}, "title": "Glycerophospholipids",
   "encoding": {
    "x": {"field": "x", "type": "nominal", "title": null, "scale": {"domain": ["BMI","FM","Waist","Wtchg"]}},
    "y": {"field": "m", "type": "nominal", "title": "Metabolite", "axis": {"titleX": -140, "titleY": 204.5},
     "scale": {"domain": ["C38:4 PE","C38:4 PC","C38:3 PC","C38:2 PE","C36:4 PC plasmalogen","C36:4 PC−B","C36:2 PE","C36:2 PC plasmalogen","C36:1 PE plasmalogen","C36:1 PE","C34:3 PC plasmalogen","C34:2 PE","C34:1 PC plasmalogen−B","C34:1 PC plasmalogen","C32:2 PC","C32:1 PC","C30:1 PC","C22:6 LPC","C22:0 LPE","C20:5 LPC","C18:2 LPC","C18:1 LPC"]}}},
   "layer": [
    {"mark": {"type": "rect", "fill": "#7f7f7f", "stroke": "#ffffff", "strokeWidth": 0.7, "strokeOpacity": 0.6}},
    {"transform": [{"filter": "isValid(datum.v)"}], "mark": {"type": "rect", "stroke": "#ffffff", "strokeWidth": 0.7, "strokeOpacity": 0.6},
     "encoding": {"fill": {"field": "v", "type": "quantitative", "legend": null, "scale": {"domain": [-0.5, 0, 0.5], "range": ["#053061", "#ffffff", "#67001f"], "interpolate": "lab"}}}},
    {"mark": {"type": "text", "fontSize": 10, "color": "#1a1a1a"}, "encoding": {"text": {"field": "t"}}}
   ]},
  {"width": 177, "height": 409, "data": {"name": "gl"}, "title": "Glycerolipids",
   "encoding": {
    "x": {"field": "x", "type": "nominal", "title": null, "scale": {"domain": ["BMI","FM","Waist","Wtchg"]}},
    "y": {"field": "m", "type": "nominal", "title": "Metabolite", "axis": {"titleX": -140, "titleY": 204.5},
     "scale": {"domain": ["C56:3 TAG","C55:2 TAG","C54:5 TAG","C54:2 TAG","C53:2 TAG","C52:7 TAG","C52:6 TAG","C52:4 TAG","C52:3 TAG","C52:2 TAG","C52:1 TAG","C51:3 TAG","C51:2 TAG","C51:1 TAG","C51:0 TAG","C50:6 TAG","C50:5 TAG","C50:3 TAG","C50:2 TAG","C50:1 TAG","C50:0 TAG","C49:3 TAG","C49:2 TAG","C48:3 TAG","C48:2 TAG","C48:1 TAG","C48:0 TAG","C47:2 TAG","C46:2 TAG","C46:1 TAG","C46:0 TAG","C38:5 DAG","C36:2 DAG","C36:1 DAG","C34:1 DAG","C34:0 DAG","C32:1 DAG","C32:0 DAG"]}}},
   "layer": [
    {"mark": {"type": "rect", "fill": "#7f7f7f", "stroke": "#ffffff", "strokeWidth": 0.7, "strokeOpacity": 0.6}},
    {"transform": [{"filter": "isValid(datum.v)"}], "mark": {"type": "rect", "stroke": "#ffffff", "strokeWidth": 0.7, "strokeOpacity": 0.6},
     "encoding": {"fill": {"field": "v", "type": "quantitative",
      "legend": {"orient": "none", "legendX": -81, "legendY": 447, "direction": "horizontal", "title": "Correlation", "titleOrient": "left", "titleAnchor": "middle", "titleBaseline": "middle", "titleFontSize": 11.5, "titleFontWeight": "bold", "titleColor": "#000000", "titlePadding": 5, "gradientLength": 140, "gradientThickness": 27, "gradientStrokeWidth": 0, "values": [-0.5, -0.25, 0, 0.25, 0.5], "format": ".2f", "labelFontSize": 9.5, "labelColor": "#1a1a1a", "labelOffset": 2, "labelAlign": "center", "labelOverlap": false, "padding": 0, "encode": {"labels": {"update": {"align": {"value": "center"}}}}},
      "scale": {"domain": [-0.5, 0, 0.5], "range": ["#053061", "#ffffff", "#67001f"], "interpolate": "lab"}}}},
    {"mark": {"type": "text", "fontSize": 10, "color": "#1a1a1a"}, "encoding": {"text": {"field": "t"}}}
   ]}
 ], "spacing": 20, "resolve": {"scale": {"fill": "independent", "x": "independent", "y": "independent"}, "legend": {"fill": "independent"}}},
 {"vconcat": [
   {"width": 175, "height": 166, "data": {"name": "ca"}, "title": "Carboxylic acids",
    "encoding": {
     "x": {"field": "x", "type": "nominal", "title": null, "axis": {"minExtent": 39}, "scale": {"domain": ["BMI","FM","Waist","Wtchg"]}},
     "y": {"field": "m", "type": "nominal", "title": "Metabolite", "axis": {"titleX": -147, "titleY": 83},
      "scale": {"domain": ["Valine","Tyrosine","Proline","Phenylalanine","NMMA","Lysine","Leucine","Isoleucine","Guanidinoacetic acid","Glycine","Creatine","Alanine"]}}},
    "layer": [
     {"mark": {"type": "rect", "fill": "#7f7f7f", "stroke": "#ffffff", "strokeWidth": 0.7, "strokeOpacity": 0.6}},
     {"transform": [{"filter": "isValid(datum.v)"}], "mark": {"type": "rect", "stroke": "#ffffff", "strokeWidth": 0.7, "strokeOpacity": 0.6},
      "encoding": {"fill": {"field": "v", "type": "quantitative", "legend": null, "scale": {"domain": [-0.5, 0, 0.5], "range": ["#053061", "#ffffff", "#67001f"], "interpolate": "lab"}}}},
     {"mark": {"type": "text", "fontSize": 10, "color": "#1a1a1a"}, "encoding": {"text": {"field": "t"}}}
    ]},
   {"width": 175, "height": 166, "data": {"name": "ce"}, "title": "Cholesteryl esters",
    "encoding": {
     "x": {"field": "x", "type": "nominal", "title": null, "scale": {"domain": ["BMI","FM","Waist","Wtchg"]}},
     "y": {"field": "m", "type": "nominal", "title": "Metabolite", "axis": {"titleX": -147, "titleY": 83},
      "scale": {"domain": ["Cholesterol","C22:6 CE","C22:5 CE","C20:5 CE","C20:4 CE","C18:3 CE","C18:2 CE","C18:1 CE","C16:0 CE","C14:0 CE"]}}},
    "layer": [
     {"mark": {"type": "rect", "fill": "#7f7f7f", "stroke": "#ffffff", "strokeWidth": 0.7, "strokeOpacity": 0.6}},
     {"transform": [{"filter": "isValid(datum.v)"}], "mark": {"type": "rect", "stroke": "#ffffff", "strokeWidth": 0.7, "strokeOpacity": 0.6},
      "encoding": {"fill": {"field": "v", "type": "quantitative", "legend": null, "scale": {"domain": [-0.5, 0, 0.5], "range": ["#053061", "#ffffff", "#67001f"], "interpolate": "lab"}}}},
     {"mark": {"type": "text", "fontSize": 10, "color": "#1a1a1a"}, "encoding": {"text": {"field": "t"}}}
    ]},
   {"width": 175, "height": 166, "data": {"name": "fa"}, "title": "Fatty acyls, sphingolipids",
    "encoding": {
     "x": {"field": "x", "type": "nominal", "title": null, "axis": {"minExtent": 39}, "scale": {"domain": ["BMI","FM","Waist","Wtchg"]}},
     "y": {"field": "m", "type": "nominal", "title": "Metabolite", "axis": {"titleX": -147, "titleY": 83},
      "scale": {"domain": ["C6 carnitine","C5 carnitine","C4−OH carnitine","C36:4 DAG","C36:3 DAG","C34:3 DAG","C34:2 DAG","C3 carnitine","C24:0 Ceramide (d18:1)","C22:0 Ceramide (d18:1)","C20:0 SM","C2 carnitine","C18:1 SM","C18:0 SM","C16:0 Ceramide (d18:1)","C14:0 SM"]}}},
    "layer": [
     {"mark": {"type": "rect", "fill": "#7f7f7f", "stroke": "#ffffff", "strokeWidth": 0.7, "strokeOpacity": 0.6}},
     {"transform": [{"filter": "isValid(datum.v)"}], "mark": {"type": "rect", "stroke": "#ffffff", "strokeWidth": 0.7, "strokeOpacity": 0.6},
      "encoding": {"fill": {"field": "v", "type": "quantitative", "legend": null, "scale": {"domain": [-0.5, 0, 0.5], "range": ["#053061", "#ffffff", "#67001f"], "interpolate": "lab"}}}},
     {"mark": {"type": "text", "fontSize": 10, "color": "#1a1a1a"}, "encoding": {"text": {"field": "t"}}}
    ]},
   {"width": 175, "height": 166, "data": {"name": "ot"}, "title": "Other",
    "encoding": {
     "x": {"field": "x", "type": "nominal", "title": null, "scale": {"domain": ["BMI","FM","Waist","Wtchg"]}},
     "y": {"field": "m", "type": "nominal", "title": "Metabolite", "axis": {"titleX": -147, "titleY": 83},
      "scale": {"domain": ["Uric acid","Trigonelline","Pyridoxamine","Pseudouridine","N4−acetylcytidine","N2,N2−dimethylguanosine","Hippurate","Carnitine","C36:4 PC−A","C36:3 PC plasmalogen","C34:4 PC","C34:2 PC plasmalogen","C20:1 LPC","4−aminohippuric acid","1−methylguanosine"]}}},
    "layer": [
     {"mark": {"type": "rect", "fill": "#7f7f7f", "stroke": "#ffffff", "strokeWidth": 0.7, "strokeOpacity": 0.6}},
     {"transform": [{"filter": "isValid(datum.v)"}], "mark": {"type": "rect", "stroke": "#ffffff", "strokeWidth": 0.7, "strokeOpacity": 0.6},
      "encoding": {"fill": {"field": "v", "type": "quantitative",
       "legend": {"orient": "none", "legendX": -84, "legendY": 205, "direction": "horizontal", "title": "Correlation", "titleOrient": "left", "titleAnchor": "middle", "titleBaseline": "middle", "titleFontSize": 11.5, "titleFontWeight": "bold", "titleColor": "#000000", "titlePadding": 5, "gradientLength": 140, "gradientThickness": 27, "gradientStrokeWidth": 0, "values": [-0.5, -0.25, 0, 0.25, 0.5], "format": ".2f", "labelFontSize": 9.5, "labelColor": "#1a1a1a", "labelOffset": 2, "labelAlign": "center", "labelOverlap": false, "padding": 0, "encode": {"labels": {"update": {"align": {"value": "center"}}}}},
       "scale": {"domain": [-0.5, 0, 0.5], "range": ["#053061", "#ffffff", "#67001f"], "interpolate": "lab"}}}},
     {"mark": {"type": "text", "fontSize": 10, "color": "#1a1a1a"}, "encoding": {"text": {"field": "t"}}}
    ]}
 ], "spacing": 18.5, "resolve": {"scale": {"fill": "independent", "x": "independent", "y": "independent"}, "legend": {"fill": "independent"}}}
],
"spacing": 30,
"resolve": {"scale": {"fill": "independent", "x": "independent", "y": "independent"}, "legend": {"fill": "independent"}}
}
